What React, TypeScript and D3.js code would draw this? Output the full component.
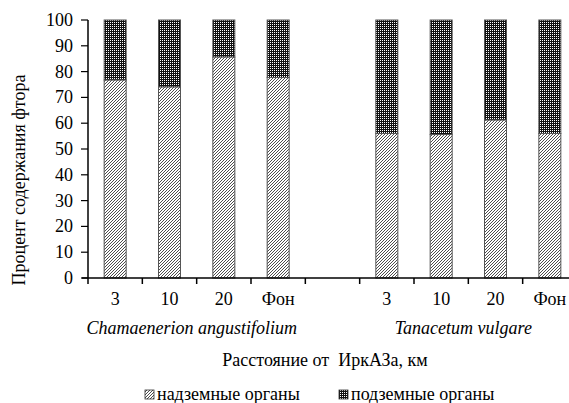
import React from 'react'
import * as d3 from 'd3'

const categories = ['3', '10', '20', 'Фон', '', '3', '10', '20', 'Фон']
const aboveGround = [76.7, 74, 85.6, 77.7, null, 56, 55.6, 61.2, 56]
const species = ['Chamaenerion angustifolium', 'Tanacetum vulgare']
const yTicks = [0, 10, 20, 30, 40, 50, 60, 70, 80, 90, 100]
const legendLabels = ['надземные органы', 'подземные органы']

export default function App() {
    const width = 569
    const height = 403
    const margin = { top: 20, bottom: 278, left: 88, right: 577 }

    // band per category, axis runs past the right edge like the original
    const x = d3.scaleBand<number>().domain(d3.range(categories.length)).range([margin.left, margin.right])
    const y = d3.scaleLinear().domain([0, 100]).range([margin.bottom, margin.top])
    const barW = 22
    const bw = x.bandwidth()

    const groupCenter = (i: number) => {
        const slots = i === 0 ? [0, 3] : [5, 8]
        return ((x(slots[0]) as number) + (x(slots[1]) as number) + bw) / 2
    }

    return (
        <svg width={width} height={height} style={{ position: 'absolute', left: 0, top: 0, fontFamily: 'Liberation Serif, Times New Roman, serif', fontSize: 18 }}>
            <defs>
                <pattern id="hatch" width="3" height="3" patternUnits="userSpaceOnUse">
                    <rect width="3" height="3" fill="#fff" />
                    <path d="M-1,1 l2,-2 M0,3 l3,-3 M2,4 l2,-2" stroke="#000" strokeWidth="0.7" />
                </pattern>
                <pattern id="dots" width="2" height="2" patternUnits="userSpaceOnUse">
                    <rect width="2" height="2" fill="#111" />
                    <rect x="0" y="0" width="1" height="1" fill="#fff" />
                </pattern>
            </defs>
            <rect width={width} height={height} fill="#fff" />

            {/* bars */}
            {aboveGround.map((v, i) => {
                if (v === null) return null
                const cx = (x(i) as number) + bw / 2
                return (
                    <g key={i}>
                        <rect x={cx - barW / 2} y={y(100)} width={barW} height={y(v) - y(100)} fill="url(#dots)" stroke="#555" strokeWidth={1} />
                        <rect x={cx - barW / 2} y={y(v)} width={barW} height={y(0) - y(v)} fill="url(#hatch)" stroke="#555" strokeWidth={1} />
                    </g>
                )
            })}

            {/* y axis */}
            <line x1={margin.left} x2={margin.left} y1={y(0)} y2={y(100)} stroke="#000" strokeWidth={1.5} />
            {yTicks.map(t => (
                <g key={t}>
                    <line x1={margin.left - 7} x2={margin.left} y1={y(t)} y2={y(t)} stroke="#000" strokeWidth={1.2} />
                    <text x={73} y={y(t) + 6} textAnchor="end">{t}</text>
                </g>
            ))}
            <text transform="translate(25, 180) rotate(-90)" textAnchor="middle">
                Процент содержания фтора
            </text>

            {/* x axis */}
            <line x1={margin.left - 6} x2={margin.right} y1={y(0)} y2={y(0)} stroke="#000" strokeWidth={1.5} />
            {d3.range(categories.length + 1).map(i => {
                const tx = i < categories.length ? (x(i) as number) : margin.right
                return <line key={i} x1={tx} x2={tx} y1={y(0)} y2={y(0) + 6} stroke="#000" strokeWidth={1.5} />
            })}
            {categories.map((c, i) => (
                <text key={i} x={(x(i) as number) + bw / 2} y={305} textAnchor="middle">{c}</text>
            ))}
            {species.map((s, i) => (
                <text key={s} x={groupCenter(i) - 5} y={334} textAnchor="middle" fontStyle="italic">{s}</text>
            ))}
            <text x={325} y={366} textAnchor="middle" style={{ whiteSpace: 'pre' }}>
                Расстояние от  ИркАЗа, км
            </text>

            {/* legend */}
            {legendLabels.map((l, i) => {
                const lx = i === 0 ? 145 : 339
                return (
                    <g key={l}>
                        <rect x={lx} y={390} width={9} height={9} fill={i === 0 ? 'url(#hatch)' : 'url(#dots)'} stroke="#333" strokeWidth={0.8} />
                        <text x={lx + 12} y={400}>{l}</text>
                    </g>
                )
            })}
        </svg>
    )
}
